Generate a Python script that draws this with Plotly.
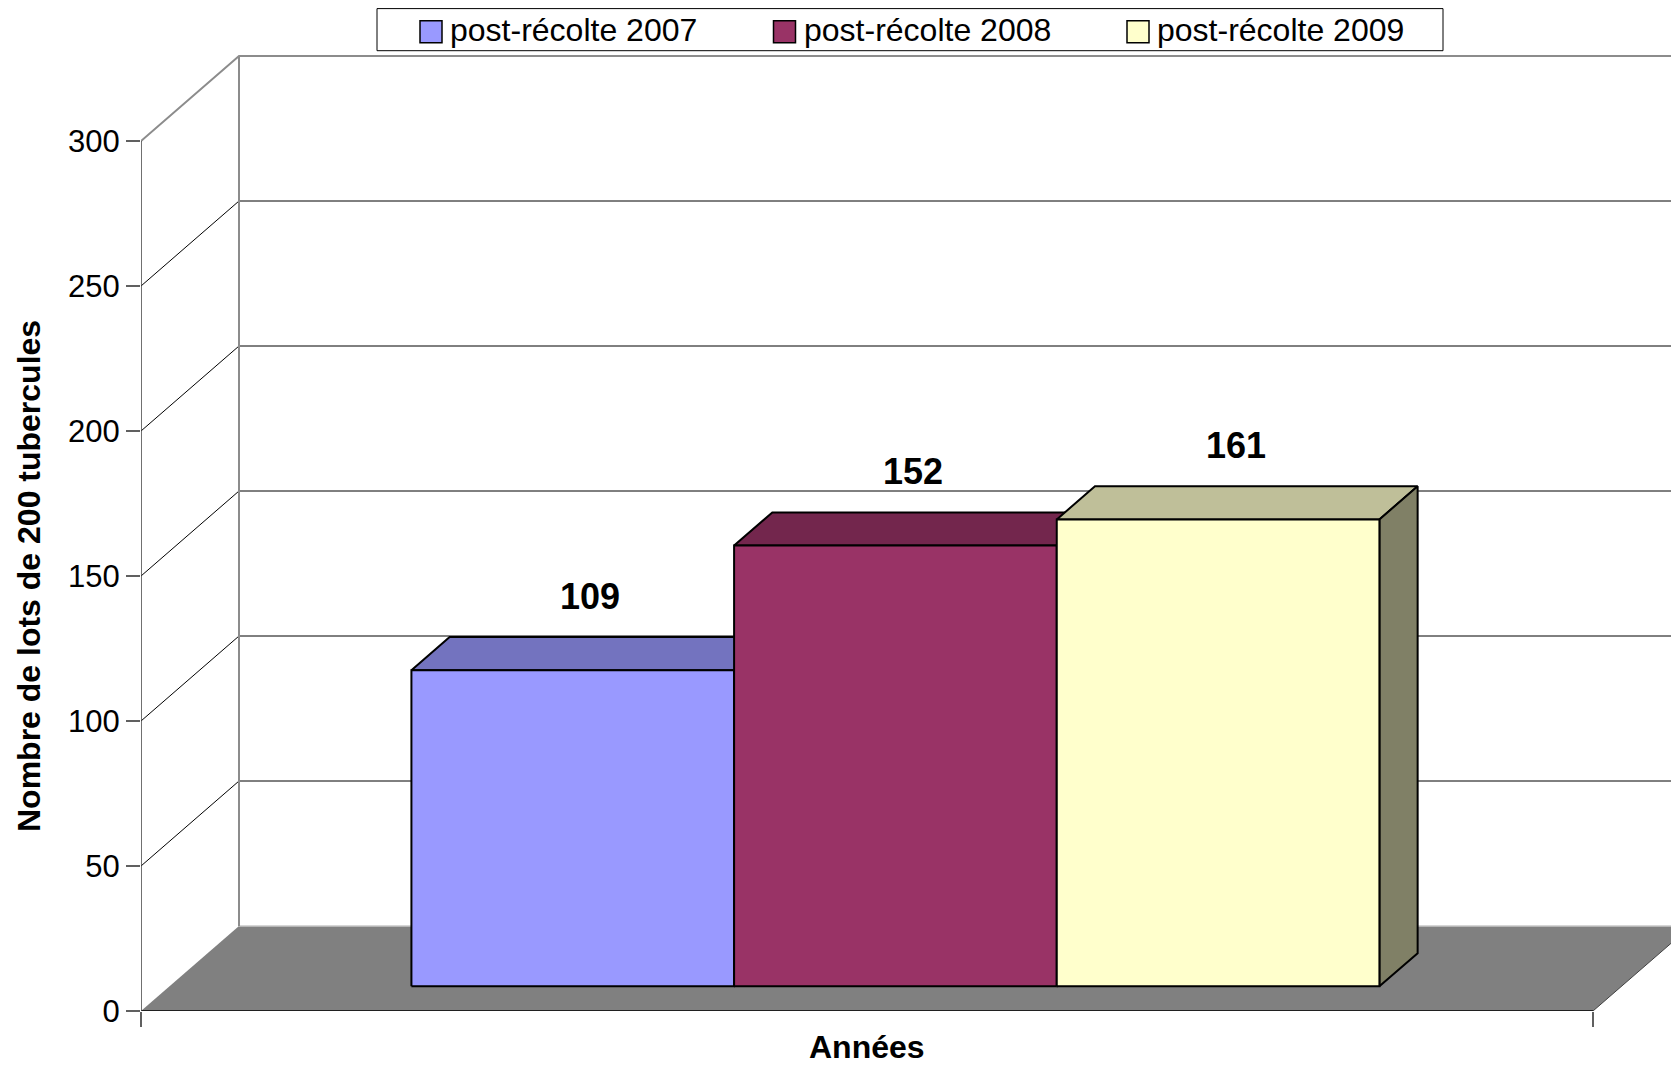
import plotly.graph_objects as go

# ---- data ----
series_names = ["post-récolte 2007", "post-récolte 2008", "post-récolte 2009"]
series_values = [109, 152, 161]
front_colors = ["#9999FF", "#993366", "#FFFFCC"]
top_colors = ["#7373BF", "#73264D", "#BFBF99"]
side_colors = ["#4D4D80", "#4D1A33", "#808066"]
y_ticks = [0, 50, 100, 150, 200, 250, 300]
y_title = "Nombre de lots de 200 tubercules"
x_title = "Années"

# ---- figure geometry (figure pixels) ----
FIG_W, FIG_H = 1671, 1059
ML, MB = 133, 56
PLOT_W = FIG_W - ML
PLOT_H = FIG_H - MB
PX_PER_CAT = 1452.0
PX_PER_VAL = 2.9

def paper_x(fx):
    return (fx - ML) / PLOT_W

def paper_y(fy):
    return 1 - fy / PLOT_H

# ---- 3D projection parameters (axis units) ----
KX = 98 / PX_PER_CAT   # x shift for full depth (category units)
KV = 85 / PX_PER_VAL   # value shift for full depth (value units)
Z0, Z1 = 0.29, 0.68    # depth of bars
VMAX = y_ticks[-1]
n = len(series_values)
group_left, group_width = 1 / 6, 2 / 3
bw = group_width / n

def P(x, v, z):
    return x + z * KX, v + z * KV

FONT = "Liberation Sans, Arial, sans-serif"
fig = go.Figure()

def poly(pts, fill, line_color, lw, closed=True):
    xs = [p[0] for p in pts]
    ys = [p[1] for p in pts]
    if closed:
        xs.append(xs[0]); ys.append(ys[0])
    fig.add_trace(go.Scatter(
        x=xs, y=ys, mode="lines",
        fill="toself" if fill else None, fillcolor=fill,
        line=dict(color=line_color, width=lw),
        hoverinfo="skip", showlegend=False))

def line(pts, color, lw):
    poly(pts, None, color, lw, closed=False)

# floor
poly([P(0, 0, 0), P(1, 0, 0), P(1, 0, 1), P(0, 0, 1)], "#808080", "rgba(0,0,0,0)", 0)
line([P(0, 0, 1), P(1, 0, 1)], "#C8C8C8", 1.5)
line([P(1, 0, 0), P(1, 0, 1)], "#404040", 1)
line([P(0, 0, 0), P(1, 0, 0)], "#000000", 1.5)

# gridlines on side and back wall
for v in y_ticks[1:-1]:
    line([P(0, v, 0), P(0, v, 1), P(1.2, v, 1)], "#000000", 1)
# wall edges
line([P(0, VMAX, 0), P(0, VMAX, 1), P(1.2, VMAX, 1)], "#8C8C8C", 2)
line([P(0, 0, 1), P(0, VMAX, 1)], "#8C8C8C", 2)
# front value axis
line([P(0, 0, 0), P(0, VMAX, 0)], "#404040", 1.5)

# bars
for i, v in enumerate(series_values):
    xl = group_left + i * bw
    xr = xl + bw
    poly([P(xl, v, Z0), P(xr, v, Z0), P(xr, v, Z1), P(xl, v, Z1)], top_colors[i], "#000000", 2)
    poly([P(xr, 0, Z0), P(xr, 0, Z1), P(xr, v, Z1), P(xr, v, Z0)], side_colors[i], "#000000", 2)
    poly([P(xl, 0, Z0), P(xr, 0, Z0), P(xr, v, Z0), P(xl, v, Z0)], front_colors[i], "#000000", 2)
    lx, ly = P((xl + xr) / 2, v, 0.47)
    fig.add_annotation(x=lx, y=v + 34, text=f"<b>{v}</b>", showarrow=False,
                       xanchor="center", yanchor="middle",
                       font=dict(family=FONT, size=36, color="#000000"))

# legend (box, swatches, labels)
shapes = [dict(type="rect", xref="paper", yref="paper",
               x0=paper_x(369), x1=paper_x(1435), y0=paper_y(42.7), y1=paper_y(0.6),
               line=dict(color="#000000", width=1), fillcolor="white", layer="above")]
LEG_X0, LEG_PITCH, SW = 412, 353.5, 22
for i, name in enumerate(series_names):
    sx = LEG_X0 + i * LEG_PITCH
    shapes.append(dict(type="rect", xref="paper", yref="paper",
                       x0=paper_x(sx), x1=paper_x(sx + SW),
                       y0=paper_y(12.7 + SW), y1=paper_y(12.7),
                       line=dict(color="#000000", width=1.5),
                       fillcolor=front_colors[i], layer="above"))
    fig.add_annotation(x=paper_x(sx + SW + 6), xref="paper", y=paper_y(22.5), yref="paper",
                       text=name, showarrow=False, xanchor="left", yanchor="middle",
                       font=dict(family=FONT, size=32, color="#000000"))

fig.add_annotation(x=paper_x(21), xref="paper", y=VMAX / 2, yref="y",
                   text=f"<b>{y_title}</b>", textangle=-90, showarrow=False,
                   xanchor="center", yanchor="middle",
                   font=dict(family=FONT, size=32, color="#000000"))
fig.add_annotation(x=0.5, xref="x", y=paper_y(1039), yref="paper",
                   text=f"<b>{x_title}</b>", showarrow=False,
                   xanchor="center", yanchor="middle",
                   font=dict(family=FONT, size=32, color="#000000"))

fig.update_layout(
    width=FIG_W, height=FIG_H,
    margin=dict(l=ML, r=0, t=0, b=MB),
    paper_bgcolor="white", plot_bgcolor="white",
    font=dict(family=FONT, size=31, color="#000000"),
    showlegend=False,
    shapes=shapes,
    xaxis=dict(range=[0, PLOT_W / PX_PER_CAT], showgrid=False, zeroline=False, showline=False,
               tickvals=[0, 1], ticks="outside", ticklen=15, tickcolor="#606060",
               tickwidth=1.5, showticklabels=False, fixedrange=True),
    yaxis=dict(range=[0, PLOT_H / PX_PER_VAL], showgrid=False, zeroline=False, showline=False,
               tickvals=y_ticks, ticks="outside", ticklen=14, tickcolor="#606060",
               tickwidth=1.5, tickfont=dict(family=FONT, size=31), fixedrange=True),
)

fig.write_html("out.html")
